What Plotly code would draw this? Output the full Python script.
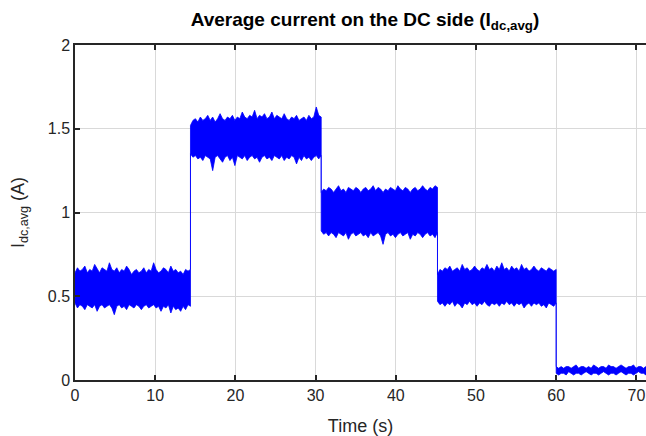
import numpy as np
import plotly.graph_objects as go

# segment boundaries (s)
seg_start = [0.0, 14.4, 30.7, 45.2, 60.0]
seg_end = [14.4, 30.7, 45.2, 60.0, 71.2]

# upper / lower envelopes of the noisy current (A)
upper = [
    [0.64,0.67,0.65,0.66,0.68,0.64,0.66,0.65,0.69,0.66,0.64,0.67,0.66,0.65,0.70,0.66,0.65,0.67,0.64,0.66,
     0.65,0.68,0.66,0.63,0.65,0.66,0.64,0.65,0.67,0.64,0.66,0.65,0.70,0.66,0.64,0.65,0.67,0.66,0.64,0.68,
     0.65,0.66,0.64,0.65,0.63,0.66,0.65,0.66],
    [1.52,1.55,1.56,1.54,1.57,1.55,1.56,1.58,1.55,1.57,1.54,1.56,1.59,1.56,1.55,1.57,1.56,1.58,1.55,1.57,
     1.56,1.60,1.57,1.56,1.58,1.57,1.61,1.56,1.58,1.57,1.59,1.56,1.57,1.60,1.56,1.58,1.57,1.56,1.59,1.56,
     1.55,1.57,1.56,1.58,1.55,1.56,1.57,1.55,1.58,1.56,1.57,1.63,1.58,1.57],
    [1.12,1.14,1.13,1.15,1.14,1.12,1.14,1.16,1.13,1.14,1.12,1.15,1.14,1.13,1.15,1.14,1.12,1.14,1.15,1.13,
     1.14,1.16,1.13,1.15,1.14,1.12,1.14,1.13,1.15,1.14,1.13,1.16,1.14,1.13,1.15,1.14,1.12,1.14,1.15,1.13,
     1.14,1.16,1.14,1.13,1.15,1.14,1.16,1.15],
    [0.63,0.66,0.65,0.67,0.66,0.68,0.65,0.66,0.67,0.65,0.69,0.66,0.67,0.65,0.66,0.68,0.66,0.65,0.67,0.66,
     0.69,0.66,0.67,0.65,0.68,0.66,0.70,0.66,0.67,0.65,0.68,0.66,0.67,0.65,0.69,0.66,0.67,0.65,0.66,0.68,
     0.66,0.65,0.67,0.66,0.65,0.67,0.66,0.65,0.66],
    [0.08,0.07,0.08,0.07,0.08,0.08,0.07,0.08,0.09,0.07,0.08,0.08,0.07,0.08,0.07,0.09,0.08,0.07,0.08,0.08,
     0.07,0.09,0.08,0.08,0.07,0.08,0.09,0.08,0.07,0.08,0.08,0.09,0.07,0.08,0.08,0.07,0.08],
]
lower = [
    [0.46,0.43,0.45,0.44,0.42,0.45,0.44,0.43,0.45,0.41,0.44,0.45,0.43,0.44,0.45,0.43,0.39,0.44,0.45,0.43,
     0.44,0.42,0.45,0.44,0.43,0.45,0.44,0.42,0.44,0.45,0.43,0.44,0.45,0.43,0.44,0.41,0.44,0.43,0.45,0.40,
     0.44,0.42,0.43,0.41,0.44,0.42,0.45,0.44],
    [1.35,1.33,1.34,1.32,1.33,1.31,1.34,1.33,1.32,1.25,1.33,1.34,1.32,1.30,1.33,1.34,1.31,1.33,1.28,1.34,
     1.33,1.32,1.34,1.31,1.33,1.34,1.32,1.33,1.30,1.33,1.34,1.32,1.33,1.31,1.34,1.33,1.32,1.34,1.31,1.33,
     1.32,1.34,1.33,1.29,1.33,1.31,1.34,1.32,1.33,1.31,1.33,1.34,1.32,1.34],
    [0.89,0.87,0.88,0.86,0.88,0.87,0.85,0.88,0.87,0.86,0.88,0.84,0.87,0.88,0.86,0.87,0.88,0.86,0.87,0.85,
     0.88,0.86,0.87,0.88,0.86,0.81,0.87,0.88,0.86,0.87,0.85,0.87,0.88,0.86,0.87,0.88,0.84,0.87,0.86,0.88,
     0.87,0.85,0.87,0.88,0.86,0.87,0.85,0.88],
    [0.47,0.45,0.46,0.44,0.46,0.45,0.47,0.44,0.46,0.45,0.43,0.46,0.45,0.47,0.45,0.46,0.44,0.46,0.45,0.47,
     0.45,0.44,0.46,0.45,0.46,0.44,0.46,0.45,0.47,0.45,0.46,0.44,0.46,0.45,0.46,0.43,0.45,0.46,0.44,0.46,
     0.45,0.46,0.44,0.45,0.43,0.46,0.45,0.44,0.46],
    [0.04,0.03,0.04,0.04,0.03,0.05,0.04,0.03,0.04,0.04,0.03,0.04,0.05,0.04,0.03,0.04,0.04,0.03,0.04,0.05,
     0.04,0.03,0.04,0.04,0.03,0.04,0.05,0.04,0.03,0.04,0.04,0.03,0.04,0.05,0.04,0.04,0.03],
]

x_ticks = [0, 10, 20, 30, 40, 50, 60, 70]
y_ticks = [0, 0.5, 1, 1.5, 2]
y_tick_text = ["0", "0.5", "1", "1.5", "2"]

xs_up, ys_up, xs_lo, ys_lo = [], [], [], []
for a, b, u, l in zip(seg_start, seg_end, upper, lower):
    xs_up += list(np.linspace(a, b, len(u))); ys_up += list(u)
    xs_lo += list(np.linspace(a, b, len(l))); ys_lo += list(l)

poly_x = xs_up + xs_lo[::-1] + [xs_up[0]]
poly_y = ys_up + ys_lo[::-1] + [ys_up[0]]

fig = go.Figure()
fig.add_trace(go.Scatter(x=poly_x, y=poly_y, mode="lines", fill="toself",
                         fillcolor="#0000ff", line=dict(color="#0000ff", width=0.8),
                         hoverinfo="skip", showlegend=False))

fam = "Liberation Sans, Arial, sans-serif"
axis_font = dict(family=fam, size=16, color="#262626")
fig.update_layout(
    width=646, height=436,
    margin=dict(l=75, r=0, t=45, b=56),
    paper_bgcolor="white", plot_bgcolor="white",
    title=dict(text="<b>Average current on the DC side (I<sub>dc,avg</sub>)</b>",
               x=0.565, xanchor="center", y=0.97, yanchor="top",
               font=dict(family=fam, size=19, color="black")),
    showlegend=False,
)
fig.update_xaxes(range=[0, 71.2], tickvals=x_ticks, ticks="inside", ticklen=5,
                 tickcolor="#262626", tickwidth=1.5,
                 showline=True, linecolor="#262626", linewidth=1.5, mirror="ticks",
                 showgrid=True, gridcolor="#d9d9d9", gridwidth=1.2, zeroline=False,
                 tickfont=axis_font,
                 title=dict(text="Time (s)", font=dict(family=fam, size=18, color="#262626"),
                            standoff=16))
fig.update_yaxes(range=[0, 2], tickvals=y_ticks, ticktext=y_tick_text, ticks="inside", ticklen=5,
                 tickcolor="#262626", tickwidth=1.5,
                 showline=True, linecolor="#262626", linewidth=1.5, mirror=False,
                 showgrid=True, gridcolor="#d9d9d9", gridwidth=1.2, zeroline=False,
                 tickfont=axis_font,
                 title=dict(text="I<sub>dc,avg</sub> (A)", font=dict(family=fam, size=18, color="#262626"),
                            standoff=18))

fig.write_html("out.html")
